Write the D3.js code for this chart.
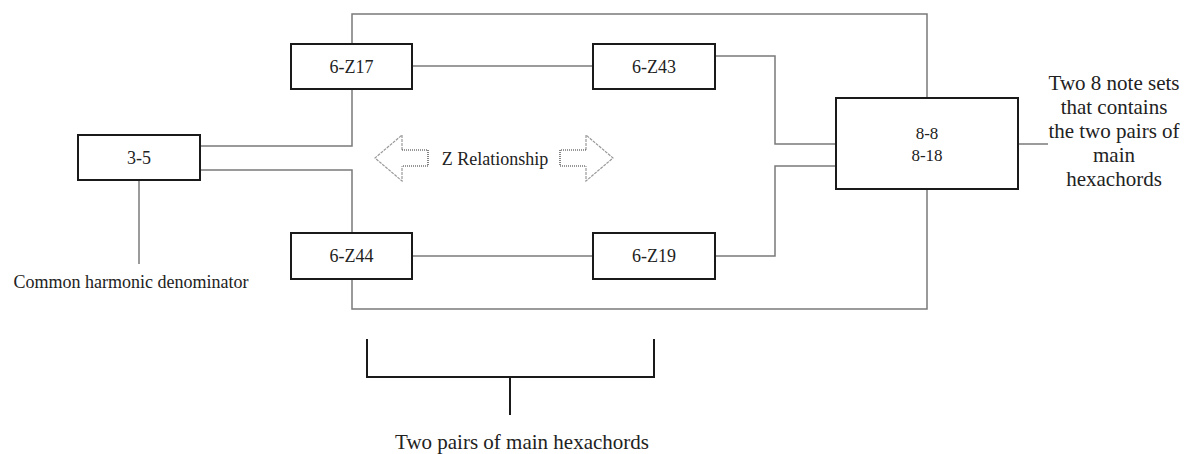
<!DOCTYPE html>
<html>
<head>
<meta charset="utf-8">
<script src="https://cdn.jsdelivr.net/npm/d3@7"></script>
<style>
  body { margin: 0; background: #fff; }
  svg text { font-family: "Liberation Serif", "Times New Roman", serif; fill: #222; }
</style>
</head>
<body>
<div id="diagram"></div>
<script>
// DATA
var sourceSet = "3-5";
var hexachords = ["6-Z17", "6-Z43", "6-Z44", "6-Z19"];
var octachords = ["8-8", "8-18"];
var sourceNote = "Common harmonic denominator";
var relationNote = "Z Relationship";
var octaNote = ["Two 8 note sets", "that contains", "the two pairs of", "main", "hexachords"];
var bracketNote = "Two pairs of main hexachords";

// LAYOUT
var WIDTH = 1192, HEIGHT = 454;
var GRAY = "#7a7a7a", DARK = "#1a1a1a";

var svg = d3.select("#diagram").append("svg")
    .attr("width", WIDTH)
    .attr("height", HEIGHT);

var boxes = [
    {label: [sourceSet],     x: 78,  y: 135, w: 122, h: 45},
    {label: [hexachords[0]], x: 291, y: 44,  w: 121, h: 45},
    {label: [hexachords[1]], x: 593, y: 44,  w: 122, h: 45},
    {label: [hexachords[2]], x: 291, y: 233, w: 121, h: 46},
    {label: [hexachords[3]], x: 593, y: 233, w: 122, h: 46},
    {label: octachords,      x: 836, y: 98,  w: 182, h: 91}
];

var line = d3.line();

// connectors
var links = [
    [[352, 44], [352, 14], [927, 14], [927, 309], [352, 309], [352, 279]],
    [[352, 89], [352, 146], [200, 146]],
    [[352, 233], [352, 170], [200, 170]],
    [[412, 66], [593, 66]],
    [[412, 256], [593, 256]],
    [[715, 56], [775, 56], [775, 144], [836, 144]],
    [[715, 256], [775, 256], [775, 166], [836, 166]],
    [[1018, 144], [1048, 144]],
    [[139, 180], [139, 264]]
];

svg.selectAll(".link")
    .data(links)
    .enter()
    .append("path")
    .attr("class", "link")
    .attr("d", line)
    .attr("fill", "none")
    .attr("stroke", GRAY)
    .attr("stroke-width", 1.5);

// boxes
var g = svg.selectAll(".box")
    .data(boxes)
    .enter()
    .append("g")
    .attr("class", "box");

g.append("rect")
    .attr("x", d => d.x)
    .attr("y", d => d.y)
    .attr("width", d => d.w)
    .attr("height", d => d.h)
    .attr("fill", "#fff")
    .attr("stroke", DARK)
    .attr("stroke-width", 2);

g.each(function(d) {
    var n = d.label.length;
    d3.select(this).selectAll("text")
        .data(d.label)
        .enter()
        .append("text")
        .attr("x", d.x + d.w / 2)
        .attr("y", (t, i) => d.y + d.h / 2 + 6 + (i - (n - 1) / 2) * 22)
        .attr("text-anchor", "middle")
        .attr("font-size", n > 1 ? 17 : 18)
        .text(t => t);
});

// double arrow
function arrow(tipX, dir) {
    var cy = 158, hh = 23, sh = 8, head = 27, shaft = 26;
    var bx = tipX + dir * head, ex = bx + dir * shaft;
    svg.append("path")
        .attr("d", line([[bx, cy - sh], [bx, cy - hh], [tipX, cy], [bx, cy + hh], [bx, cy + sh]]))
        .attr("fill", "none")
        .attr("stroke", "#999")
        .attr("stroke-width", 1.2)
        .attr("stroke-dasharray", "3,1");
    svg.append("path")
        .attr("d", line([[bx, cy - sh], [ex, cy - sh], [ex, cy + sh], [bx, cy + sh]]))
        .attr("fill", "none")
        .attr("stroke", "#333")
        .attr("stroke-width", 1.2)
        .attr("stroke-dasharray", "1,1");
}
arrow(375, 1);
arrow(613, -1);

svg.append("text")
    .attr("x", 495)
    .attr("y", 165)
    .attr("text-anchor", "middle")
    .attr("font-size", 18)
    .text(relationNote);

// bracket
svg.append("path")
    .attr("d", line([[367, 339], [367, 377], [654, 377], [654, 339]]))
    .attr("fill", "none")
    .attr("stroke", DARK)
    .attr("stroke-width", 2);
svg.append("path")
    .attr("d", line([[510, 377], [510, 415]]))
    .attr("stroke", DARK)
    .attr("stroke-width", 2);

// notes
svg.append("text")
    .attr("x", 131)
    .attr("y", 288)
    .attr("text-anchor", "middle")
    .attr("font-size", 18)
    .text(sourceNote);

svg.append("text")
    .attr("x", 522)
    .attr("y", 449)
    .attr("text-anchor", "middle")
    .attr("font-size", 21)
    .text(bracketNote);

svg.selectAll(".octa-note")
    .data(octaNote)
    .enter()
    .append("text")
    .attr("class", "octa-note")
    .attr("x", 1114)
    .attr("y", (d, i) => 90 + i * 24)
    .attr("text-anchor", "middle")
    .attr("font-size", 21)
    .text(d => d);
</script>
</body>
</html>
